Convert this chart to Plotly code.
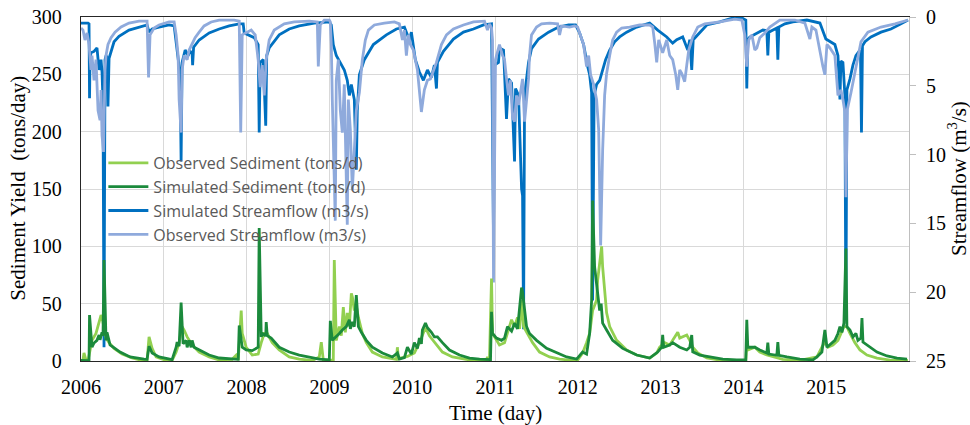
import plotly.graph_objects as go

# ---------------- data (time in decimal years) ----------------
years = list(range(2006, 2016))
year_labels = [str(y) for y in years]
sed_ticks = [0, 50, 100, 150, 200, 250, 300]
flow_ticks = [0, 5, 10, 15, 20, 25]

obs_sed = [
    (2006.000, 0.5), (2006.024, 1.0), (2006.036, 7.0), (2006.060, 1.0), (2006.085, 0.5),
    (2006.133, 18.0), (2006.181, 24.0), (2006.218, 34.0), (2006.242, 40.0), (2006.254, 38.0),
    (2006.278, 30.0), (2006.302, 20.0), (2006.339, 16.0), (2006.399, 11.0), (2006.496, 6.0),
    (2006.617, 2.6), (2006.738, 0.5), (2006.798, 0.5), (2006.822, 21.0), (2006.859, 11.0),
    (2006.907, 3.5), (2007.028, 0.5), (2007.100, 0.5), (2007.149, 7.8), (2007.185, 15.7),
    (2007.221, 30.0), (2007.245, 27.0), (2007.282, 21.0), (2007.342, 14.0), (2007.427, 7.8),
    (2007.548, 3.5), (2007.669, 0.9), (2007.826, 1.5), (2007.874, 5.0), (2007.899, 1.0),
    (2007.935, 44.0), (2007.947, 24.0), (2007.995, 12.0), (2008.068, 5.2), (2008.140, 6.0),
    (2008.177, 16.0), (2008.213, 24.0), (2008.249, 24.0), (2008.310, 16.0), (2008.394, 9.6),
    (2008.515, 3.5), (2008.636, 1.7), (2008.793, 0.5), (2008.878, 3.5), (2008.902, 16.5),
    (2008.926, 1.0), (2008.999, 0.5), (2009.047, 0.8), (2009.059, 88.0), (2009.083, 18.0),
    (2009.120, 30.0), (2009.144, 22.0), (2009.168, 47.0), (2009.192, 25.0), (2009.216, 42.0),
    (2009.241, 30.0), (2009.265, 59.0), (2009.277, 56.0), (2009.301, 44.0), (2009.320, 50.0),
    (2009.350, 38.0), (2009.398, 24.0), (2009.446, 16.0), (2009.519, 7.8), (2009.640, 3.5),
    (2009.761, 1.7), (2009.810, 1.5), (2009.821, 12.0), (2009.833, 2.0), (2009.942, 4.0),
    (2010.026, 7.0), (2010.087, 16.0), (2010.123, 22.0), (2010.160, 29.0), (2010.208, 22.0),
    (2010.268, 16.5), (2010.365, 7.8), (2010.486, 3.5), (2010.607, 1.7), (2010.728, 0.5),
    (2010.897, 0.8), (2010.909, 3.5), (2010.933, 0.8), (2010.958, 72.0), (2010.970, 24.0),
    (2011.018, 18.0), (2011.054, 14.0), (2011.115, 16.0), (2011.151, 24.0), (2011.200, 36.0),
    (2011.236, 30.0), (2011.272, 38.0), (2011.296, 28.0), (2011.333, 53.0), (2011.345, 30.0),
    (2011.393, 24.0), (2011.454, 16.0), (2011.538, 7.8), (2011.659, 3.5), (2011.780, 1.7),
    (2011.901, 0.8), (2011.998, 0.8), (2012.058, 7.0), (2012.106, 16.0), (2012.143, 24.0),
    (2012.179, 44.0), (2012.227, 53.0), (2012.239, 70.0), (2012.288, 100.0), (2012.300, 82.0),
    (2012.348, 42.0), (2012.385, 30.0), (2012.469, 18.0), (2012.590, 9.6), (2012.711, 5.2),
    (2012.868, 2.6), (2012.953, 7.0), (2012.989, 12.0), (2013.050, 16.0), (2013.110, 14.0),
    (2013.146, 18.0), (2013.207, 25.0), (2013.231, 20.0), (2013.316, 22.7), (2013.352, 18.0),
    (2013.388, 12.0), (2013.449, 7.0), (2013.558, 2.6), (2013.715, 0.8), (2013.957, 0.5),
    (2014.029, 0.5), (2014.041, 16.0), (2014.065, 10.0), (2014.138, 12.0), (2014.198, 7.8),
    (2014.283, 5.2), (2014.380, 3.0), (2014.476, 1.5), (2014.682, 0.5), (2014.888, 3.5),
    (2014.948, 12.0), (2014.984, 16.5), (2015.021, 12.0), (2015.081, 14.0), (2015.142, 18.0),
    (2015.190, 27.0), (2015.214, 30.0), (2015.250, 30.0), (2015.287, 24.0), (2015.347, 16.0),
    (2015.408, 9.6), (2015.492, 5.2), (2015.613, 2.6), (2015.770, 0.8), (2015.988, 0.5),
]

sim_sed = [
    (2006.000, 0.5), (2006.073, 0.5), (2006.097, 0.3), (2006.103, 40.0), (2006.133, 12.0),
    (2006.157, 15.7), (2006.193, 18.0), (2006.218, 22.7), (2006.230, 18.5), (2006.254, 25.0),
    (2006.266, 22.0), (2006.278, 88.0), (2006.302, 18.0), (2006.314, 25.0), (2006.339, 18.0),
    (2006.351, 14.0), (2006.472, 7.8), (2006.593, 3.5), (2006.762, 1.7), (2006.798, 1.5),
    (2006.822, 13.0), (2006.859, 7.0), (2006.943, 3.5), (2007.064, 1.7), (2007.100, 1.2),
    (2007.149, 12.0), (2007.161, 16.5), (2007.185, 13.0), (2007.209, 51.0), (2007.233, 15.0),
    (2007.270, 18.0), (2007.282, 12.0), (2007.306, 18.0), (2007.330, 12.0), (2007.342, 18.0),
    (2007.366, 12.0), (2007.427, 9.6), (2007.548, 5.2), (2007.669, 2.6), (2007.826, 1.7),
    (2007.899, 1.5), (2007.911, 31.0), (2007.935, 18.0), (2007.947, 12.0), (2007.995, 9.6),
    (2008.068, 9.0), (2008.140, 12.0), (2008.152, 116.0), (2008.177, 21.0), (2008.189, 24.0),
    (2008.231, 22.0), (2008.237, 34.0), (2008.249, 22.0), (2008.297, 20.0), (2008.394, 12.0),
    (2008.515, 7.8), (2008.636, 5.2), (2008.757, 3.5), (2008.878, 1.7), (2008.999, 1.0),
    (2009.011, 35.0), (2009.035, 18.0), (2009.083, 21.0), (2009.120, 24.0), (2009.156, 27.0),
    (2009.204, 30.0), (2009.241, 36.0), (2009.253, 28.0), (2009.277, 34.0), (2009.301, 30.0),
    (2009.325, 57.5), (2009.350, 30.0), (2009.386, 25.0), (2009.446, 18.0), (2009.519, 12.0),
    (2009.640, 7.0), (2009.761, 3.5), (2009.821, 7.0), (2009.845, 1.7), (2009.906, 3.0),
    (2009.942, 12.0), (2009.990, 6.0), (2010.026, 16.0), (2010.063, 11.0), (2010.087, 20.0),
    (2010.111, 15.0), (2010.123, 27.0), (2010.160, 33.0), (2010.184, 29.0), (2010.232, 25.0),
    (2010.268, 21.0), (2010.305, 21.0), (2010.365, 16.0), (2010.450, 9.6), (2010.571, 5.2),
    (2010.692, 2.6), (2010.813, 1.7), (2010.909, 1.0), (2010.946, 1.2), (2010.958, 43.0),
    (2010.970, 24.0), (2011.018, 20.0), (2011.079, 18.0), (2011.115, 20.0), (2011.151, 30.0),
    (2011.200, 26.0), (2011.236, 33.0), (2011.272, 28.0), (2011.296, 47.0), (2011.321, 64.0),
    (2011.333, 60.0), (2011.357, 44.0), (2011.381, 30.0), (2011.417, 24.0), (2011.502, 18.0),
    (2011.623, 11.0), (2011.744, 7.0), (2011.865, 3.5), (2011.986, 1.7), (2012.058, 7.8),
    (2012.106, 6.0), (2012.143, 24.0), (2012.167, 53.0), (2012.179, 140.0), (2012.203, 82.0),
    (2012.227, 68.0), (2012.264, 44.0), (2012.282, 50.0), (2012.300, 33.0), (2012.348, 27.0),
    (2012.421, 18.0), (2012.542, 11.0), (2012.711, 5.2), (2012.868, 2.6), (2012.965, 7.8),
    (2013.013, 12.0), (2013.025, 22.7), (2013.037, 12.0), (2013.110, 14.0), (2013.146, 16.0),
    (2013.231, 12.0), (2013.316, 9.6), (2013.352, 12.0), (2013.376, 22.7), (2013.388, 8.0),
    (2013.473, 5.2), (2013.594, 3.5), (2013.751, 1.7), (2013.920, 1.0), (2014.029, 1.0),
    (2014.041, 36.0), (2014.053, 12.0), (2014.138, 12.0), (2014.198, 9.6), (2014.283, 7.0),
    (2014.295, 16.0), (2014.307, 6.0), (2014.404, 5.0), (2014.416, 16.5), (2014.428, 5.0),
    (2014.525, 3.5), (2014.682, 1.7), (2014.839, 1.0), (2014.888, 3.5), (2014.948, 7.8),
    (2014.984, 27.0), (2015.009, 12.0), (2015.069, 16.0), (2015.105, 18.0), (2015.142, 24.0),
    (2015.166, 30.0), (2015.190, 25.0), (2015.214, 33.0), (2015.238, 98.0), (2015.250, 30.0),
    (2015.287, 27.0), (2015.323, 21.0), (2015.359, 24.0), (2015.383, 18.0), (2015.420, 20.0),
    (2015.432, 37.5), (2015.444, 16.5), (2015.529, 12.0), (2015.613, 7.8), (2015.734, 4.4),
    (2015.855, 2.6), (2015.976, 1.7),
]

sim_flow = [
    (2006.000, 0.44), (2006.085, 0.44), (2006.097, 0.50), (2006.103, 5.90), (2006.109, 3.00),
    (2006.121, 2.60), (2006.157, 2.50), (2006.193, 2.25), (2006.218, 3.85), (2006.242, 3.10),
    (2006.254, 4.00), (2006.266, 6.25), (2006.278, 24.0), (2006.290, 3.10), (2006.302, 2.80),
    (2006.320, 3.00), (2006.326, 6.50), (2006.339, 3.00), (2006.399, 1.80), (2006.459, 1.40),
    (2006.580, 0.95), (2006.701, 0.73), (2006.798, 0.58), (2006.822, 1.10), (2006.859, 0.87),
    (2006.943, 0.73), (2007.064, 0.58), (2007.125, 0.65), (2007.149, 2.00), (2007.173, 3.10),
    (2007.197, 4.20), (2007.209, 10.5), (2007.221, 3.30), (2007.258, 2.40), (2007.294, 2.80),
    (2007.318, 2.50), (2007.342, 2.60), (2007.348, 3.50), (2007.360, 2.20), (2007.427, 1.67),
    (2007.548, 1.16), (2007.669, 0.87), (2007.790, 0.65), (2007.911, 0.50), (2007.959, 0.50),
    (2007.971, 1.16), (2008.092, 1.50), (2008.140, 2.00), (2008.152, 8.40), (2008.164, 3.30),
    (2008.201, 3.10), (2008.231, 7.90), (2008.243, 2.80), (2008.273, 2.25), (2008.394, 1.30),
    (2008.515, 0.87), (2008.636, 0.65), (2008.817, 0.44), (2008.938, 0.36), (2008.999, 0.36),
    (2009.023, 0.58), (2009.047, 2.00), (2009.083, 2.80), (2009.132, 3.30), (2009.180, 3.85),
    (2009.216, 4.60), (2009.241, 5.70), (2009.265, 4.90), (2009.301, 6.00), (2009.325, 11.1),
    (2009.337, 6.80), (2009.362, 4.20), (2009.422, 3.10), (2009.531, 2.00), (2009.688, 1.30),
    (2009.809, 0.87), (2009.906, 0.73), (2009.966, 1.67), (2009.990, 1.10), (2010.038, 3.10),
    (2010.087, 4.00), (2010.135, 4.60), (2010.184, 3.85), (2010.232, 4.40), (2010.268, 3.50),
    (2010.293, 5.20), (2010.305, 3.30), (2010.377, 2.50), (2010.498, 1.60), (2010.619, 1.10),
    (2010.740, 0.87), (2010.861, 0.58), (2010.958, 0.50), (2010.982, 16.0), (2010.994, 3.50),
    (2011.042, 3.30), (2011.054, 2.25), (2011.103, 2.40), (2011.139, 7.40), (2011.163, 4.50),
    (2011.200, 4.80), (2011.236, 10.5), (2011.248, 5.20), (2011.284, 5.70), (2011.302, 9.30),
    (2011.321, 12.5), (2011.333, 13.0), (2011.345, 22.7), (2011.357, 5.70), (2011.381, 4.50),
    (2011.405, 3.30), (2011.441, 2.30), (2011.526, 1.60), (2011.647, 1.10), (2011.768, 0.73),
    (2011.889, 0.58), (2011.973, 0.58), (2012.022, 1.16), (2012.070, 2.00), (2012.119, 3.60),
    (2012.143, 4.20), (2012.167, 5.50), (2012.179, 20.6), (2012.197, 5.70), (2012.227, 4.90),
    (2012.264, 4.60), (2012.300, 3.85), (2012.336, 3.10), (2012.385, 2.40), (2012.445, 1.80),
    (2012.505, 1.45), (2012.590, 1.10), (2012.711, 0.73), (2012.868, 0.44), (2012.965, 0.95),
    (2013.013, 1.16), (2013.074, 1.45), (2013.146, 1.90), (2013.195, 1.65), (2013.267, 1.45),
    (2013.328, 2.40), (2013.352, 1.65), (2013.376, 3.85), (2013.394, 1.65), (2013.473, 1.10),
    (2013.558, 0.58), (2013.715, 0.36), (2013.872, 0.07), (2013.981, 0.07), (2014.029, 0.22),
    (2014.041, 5.20), (2014.053, 1.67), (2014.077, 1.45), (2014.162, 1.16), (2014.235, 0.95),
    (2014.283, 1.00), (2014.295, 2.80), (2014.307, 1.10), (2014.404, 0.80), (2014.416, 3.10),
    (2014.428, 0.73), (2014.501, 0.50), (2014.597, 0.36), (2014.767, 0.22), (2014.924, 0.44),
    (2014.996, 1.60), (2015.045, 1.80), (2015.105, 2.00), (2015.142, 2.80), (2015.166, 6.00),
    (2015.178, 3.20), (2015.202, 3.30), (2015.226, 5.70), (2015.238, 22.0), (2015.250, 5.30),
    (2015.287, 4.50), (2015.323, 3.50), (2015.359, 2.80), (2015.396, 2.50), (2015.414, 2.50),
    (2015.426, 8.40), (2015.438, 2.10), (2015.468, 1.80), (2015.541, 1.45), (2015.662, 1.10),
    (2015.782, 0.87), (2015.903, 0.50), (2015.988, 0.22),
]

obs_flow = [
    (2006.000, 0.80), (2006.024, 0.95), (2006.048, 1.67), (2006.073, 1.16), (2006.097, 2.00),
    (2006.121, 3.85), (2006.133, 2.80), (2006.157, 4.60), (2006.181, 3.10), (2006.206, 6.80),
    (2006.230, 7.50), (2006.242, 5.30), (2006.254, 8.60), (2006.272, 9.80), (2006.290, 3.85),
    (2006.302, 2.80), (2006.326, 2.00), (2006.363, 1.50), (2006.411, 1.10), (2006.484, 0.73),
    (2006.580, 0.44), (2006.701, 0.30), (2006.798, 0.30), (2006.816, 4.40), (2006.834, 1.30),
    (2006.883, 0.80), (2006.943, 0.58), (2007.064, 0.36), (2007.125, 0.36), (2007.149, 1.30),
    (2007.173, 2.80), (2007.185, 6.00), (2007.209, 8.40), (2007.221, 3.85), (2007.245, 2.80),
    (2007.282, 3.10), (2007.306, 2.40), (2007.342, 2.00), (2007.378, 1.50), (2007.427, 1.10),
    (2007.487, 0.65), (2007.572, 0.36), (2007.669, 0.22), (2007.850, 0.22), (2007.911, 0.30),
    (2007.929, 8.40), (2007.947, 1.30), (2008.007, 1.10), (2008.056, 0.95), (2008.104, 1.30),
    (2008.140, 3.10), (2008.164, 5.10), (2008.189, 3.50), (2008.213, 5.70), (2008.237, 3.10),
    (2008.273, 1.67), (2008.334, 0.95), (2008.455, 0.50), (2008.576, 0.36), (2008.757, 0.30),
    (2008.854, 0.36), (2008.866, 3.60), (2008.890, 0.58), (2008.938, 0.22), (2008.999, 0.22),
    (2009.011, 0.36), (2009.023, 2.00), (2009.035, 6.00), (2009.059, 11.8), (2009.071, 14.8),
    (2009.083, 4.60), (2009.108, 3.10), (2009.132, 6.80), (2009.156, 8.40), (2009.180, 4.90),
    (2009.204, 10.4), (2009.216, 15.1), (2009.229, 6.00), (2009.253, 8.20), (2009.277, 12.6),
    (2009.301, 9.70), (2009.325, 6.80), (2009.362, 5.50), (2009.398, 3.10), (2009.434, 1.67),
    (2009.471, 0.95), (2009.543, 0.58), (2009.664, 0.44), (2009.785, 0.36), (2009.845, 0.50),
    (2009.882, 1.67), (2009.906, 0.95), (2009.930, 2.80), (2009.954, 1.30), (2009.978, 2.00),
    (2010.014, 2.40), (2010.063, 3.85), (2010.087, 5.70), (2010.111, 6.90), (2010.147, 5.30),
    (2010.184, 4.60), (2010.220, 4.50), (2010.256, 3.85), (2010.293, 3.30), (2010.353, 2.00),
    (2010.414, 1.30), (2010.498, 0.87), (2010.619, 0.58), (2010.740, 0.36), (2010.873, 0.30),
    (2010.909, 0.95), (2010.933, 0.50), (2010.958, 0.80), (2010.970, 1.67), (2010.982, 19.3),
    (2010.994, 9.70), (2011.006, 3.10), (2011.018, 2.80), (2011.054, 2.00), (2011.091, 2.80),
    (2011.115, 3.10), (2011.139, 4.50), (2011.163, 5.70), (2011.187, 4.60), (2011.212, 7.30),
    (2011.236, 7.60), (2011.260, 5.70), (2011.284, 6.40), (2011.308, 5.30), (2011.333, 4.50),
    (2011.357, 7.60), (2011.381, 5.70), (2011.405, 4.50), (2011.417, 2.80), (2011.441, 1.30),
    (2011.502, 0.73), (2011.562, 0.50), (2011.659, 0.44), (2011.756, 0.50), (2011.780, 1.30),
    (2011.804, 0.65), (2011.901, 0.73), (2011.961, 0.65), (2011.998, 0.73), (2012.034, 1.30),
    (2012.070, 2.00), (2012.106, 3.60), (2012.131, 2.80), (2012.155, 4.20), (2012.191, 4.90),
    (2012.227, 6.00), (2012.252, 8.20), (2012.276, 16.6), (2012.300, 9.70), (2012.324, 5.70),
    (2012.348, 4.10), (2012.385, 2.80), (2012.421, 1.67), (2012.469, 1.10), (2012.530, 0.80),
    (2012.626, 0.73), (2012.747, 0.58), (2012.868, 0.58), (2012.905, 0.73), (2012.929, 1.90),
    (2012.953, 3.30), (2012.977, 1.67), (2013.025, 2.60), (2013.074, 1.67), (2013.110, 2.80),
    (2013.146, 3.10), (2013.183, 4.20), (2013.207, 5.30), (2013.231, 3.85), (2013.255, 4.10),
    (2013.291, 4.70), (2013.316, 3.50), (2013.340, 2.40), (2013.388, 1.45), (2013.449, 0.73),
    (2013.533, 0.50), (2013.715, 0.36), (2013.896, 0.15), (2013.981, 0.22), (2014.017, 1.30),
    (2014.041, 3.60), (2014.065, 1.67), (2014.102, 1.30), (2014.138, 2.40), (2014.162, 2.25),
    (2014.198, 1.50), (2014.259, 1.16), (2014.319, 0.73), (2014.380, 0.44), (2014.440, 0.22),
    (2014.622, 0.22), (2014.743, 0.44), (2014.803, 1.60), (2014.827, 0.73), (2014.876, 0.95),
    (2014.936, 3.05), (2014.960, 3.60), (2014.984, 4.20), (2015.009, 2.00), (2015.045, 2.25),
    (2015.105, 2.80), (2015.142, 5.70), (2015.178, 5.30), (2015.202, 6.00), (2015.226, 6.90),
    (2015.238, 13.1), (2015.256, 6.70), (2015.299, 5.50), (2015.347, 4.00), (2015.383, 2.80),
    (2015.420, 1.80), (2015.504, 1.10), (2015.662, 0.73), (2015.831, 0.50), (2015.988, 0.22),
]


def split(pairs):
    return [p[0] for p in pairs], [p[1] for p in pairs]


SERIF = "Liberation Serif"
LEG_FONT = "Open Sans"

fig = go.Figure()

series = [
    ("Observed Sediment (tons/d)", obs_sed, "#92D050", "y2"),
    ("Simulated Sediment (tons/d)", sim_sed, "#1B8A3C", "y2"),
    ("Simulated Streamflow (m3/s)", sim_flow, "#0070C0", "y"),
    ("Observed Streamflow (m3/s)", obs_flow, "#8FAADC", "y"),
]
for name, pairs, color, ax in series:
    xs, ys = split(pairs)
    fig.add_trace(go.Scatter(
        x=xs, y=ys, mode="lines", name=name, yaxis=ax,
        line=dict(color=color, width=2.8), hoverinfo="x+y+name",
    ))

tickfont = dict(family=SERIF, size=20, color="#000000")

fig.update_layout(
    width=970, height=425,
    margin=dict(l=81, r=61, t=17, b=64, autoexpand=False),
    paper_bgcolor="white", plot_bgcolor="white",
    showlegend=True,
    legend=dict(
        x=0.027, y=0.625, xanchor="left", yanchor="top",
        bgcolor="rgba(0,0,0,0)", borderwidth=0,
        font=dict(family=LEG_FONT, size=16, color="#595959"),
        itemwidth=40, tracegroupgap=0,
    ),
    xaxis=dict(
        range=[2006, 2016], tickmode="array", tickvals=years, ticktext=year_labels,
        showgrid=True, gridcolor="#D9D9D9", gridwidth=1,
        showline=True, linecolor="#262626", linewidth=1.3, mirror=True,
        ticks="", tickfont=tickfont, ticklabelstandoff=8, zeroline=False,
        automargin=False,
    ),
    yaxis=dict(
        range=[25, 0], side="right", tickmode="array", tickvals=flow_ticks,
        ticks="outside", ticklen=6, tickcolor="#BFBFBF",
        showgrid=False, showline=True, linecolor="#BFBFBF", linewidth=1,
        tickfont=tickfont, ticklabelstandoff=6, zeroline=False, automargin=False,
    ),
    yaxis2=dict(
        range=[0, 300], side="left", overlaying="y", tickmode="array", tickvals=sed_ticks,
        showgrid=True, gridcolor="#D9D9D9", gridwidth=1,
        showline=True, linecolor="#262626", linewidth=1.3,
        ticks="", tickfont=tickfont, ticklabelstandoff=14, zeroline=False, automargin=False,
    ),
    annotations=[
        dict(text="Sediment Yield\u00a0 (tons/day)", xref="paper", yref="paper",
             x=-0.0765, y=0.503, xanchor="center", yanchor="middle", textangle=-90,
             showarrow=False, font=dict(family=SERIF, size=21, color="#000000")),
        dict(text="Streamflow (m<sup>3</sup>/s)", xref="paper", yref="paper",
             x=1.0580, y=0.529, xanchor="center", yanchor="middle", textangle=-90,
             showarrow=False, font=dict(family=SERIF, size=21, color="#000000")),
        dict(text="Time (day)", xref="paper", yref="paper",
             x=0.5, y=-0.151, xanchor="center", yanchor="middle",
             showarrow=False, font=dict(family=SERIF, size=21, color="#000000")),
    ],
)

fig.write_html(
    "out.html",
    config={"displayModeBar": False},
    post_script="document.body.style.margin='0px';document.body.style.overflow='hidden';",
)
